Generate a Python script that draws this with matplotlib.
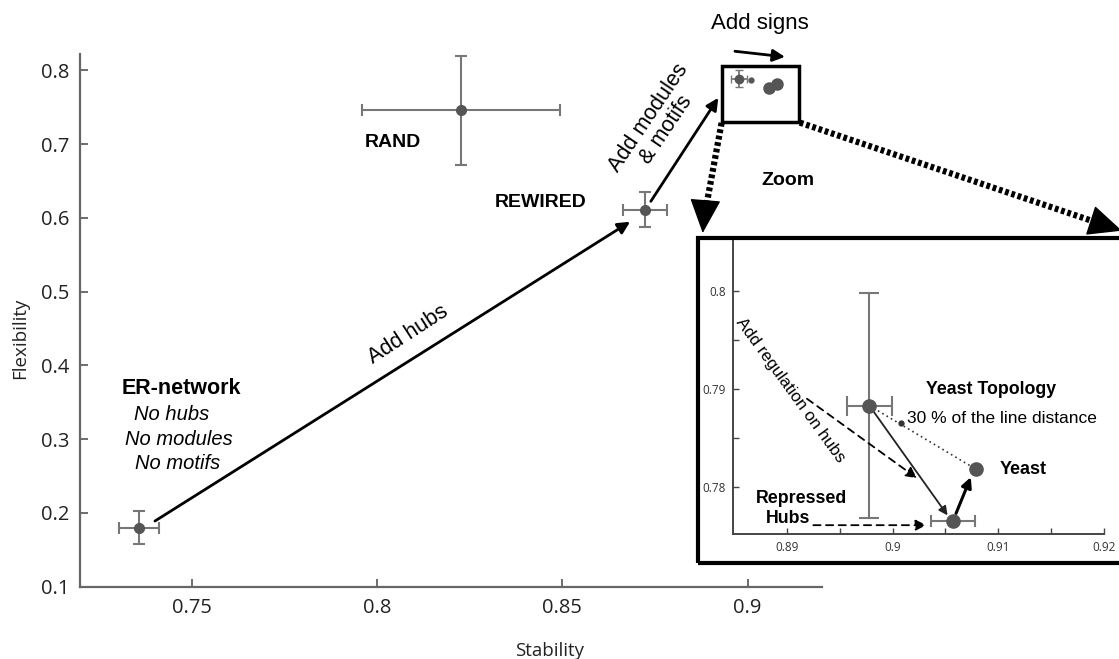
import matplotlib.pyplot as plt
from matplotlib.patches import Rectangle

plt.rcParams['font.family'] = ['Liberation Sans', 'DejaVu Sans']

# main panel: network models (stability, flexibility, x error, y error)
model_names = ['ER-network', 'RAND', 'REWIRED']
model_x = [0.7358, 0.8227, 0.8723]
model_y = [0.180, 0.746, 0.611]
model_xerr = [0.0053, 0.0268, 0.0060]
model_yerr = [0.0225, 0.074, 0.0235]

# zoomed points: yeast topology, repressed hubs, yeast, 30 % point
topo_x, topo_y = 0.8978, 0.7883
topo_xerr, topo_yerr = 0.00215, 0.0115
hubs_x, hubs_y = 0.9057, 0.7765
hubs_xerr = 0.0021
yeast_x, yeast_y = 0.9079, 0.7818
mid_x, mid_y = 0.9008, 0.7865

# zoom box on the main panel
box_x = [0.8931, 0.9139]
box_y = [0.7305, 0.8065]

main_xticks = [0.75, 0.8, 0.85, 0.9]
main_yticks = [0.1, 0.2, 0.3, 0.4, 0.5, 0.6, 0.7, 0.8]
zoom_xticks = [0.89, 0.9, 0.91, 0.92]
zoom_yticks = [0.78, 0.79, 0.8]

GREY = '#777777'
DOT = '#555555'
TICKFONT = 'Open Sans'

fig = plt.figure(figsize=(11.19, 6.59), dpi=100)
ax = fig.add_axes([0.0719, 0.1097, 0.7343 - 0.0719, 0.9185 - 0.1097])

ax.errorbar(model_x, model_y, xerr=model_xerr, yerr=model_yerr, fmt='o',
            color=DOT, ecolor=GREY, elinewidth=1.5, capsize=4.5, capthick=1.5,
            markersize=7, zorder=3)
# miniature of the zoomed data inside the box
ax.errorbar([topo_x], [topo_y], xerr=[topo_xerr], yerr=[topo_yerr], fmt='o',
            color=DOT, ecolor=GREY, elinewidth=1.3, capsize=3, markersize=6)
ax.plot([mid_x], [mid_y], 'o', color=DOT, markersize=3.5)
ax.plot([hubs_x, yeast_x], [hubs_y, yeast_y], 'o', color=DOT, markersize=8)

ax.add_patch(Rectangle((box_x[0], box_y[0]), box_x[1] - box_x[0], box_y[1] - box_y[0],
                       fill=False, lw=2.5, ec='black', clip_on=False, zorder=4))

ax.set_xlim(0.72, 0.92)
ax.set_ylim(0.1, 0.8225)
ax.set_xticks(main_xticks)
ax.set_xticklabels(['0.75', '0.8', '0.85', '0.9'])
ax.set_yticks(main_yticks)
ax.set_yticklabels(['%.1f' % v for v in main_yticks])
for s in ['top', 'right']:
    ax.spines[s].set_visible(False)
for s in ['left', 'bottom']:
    ax.spines[s].set_color('#666666')
    ax.spines[s].set_linewidth(1.6)
ax.tick_params(direction='in', length=6, width=1.2, color='#555555',
               labelsize=14.5, labelcolor='#222222', pad=8)
for lab in ax.get_xticklabels() + ax.get_yticklabels():
    lab.set_family(TICKFONT)

fig.text(20 / 1119, 1 - 338 / 659, 'Flexibility', rotation=90, ha='center', va='center',
         fontsize=13.5, family=TICKFONT, color='#222222')
fig.text(550 / 1119, 1 - 651 / 659, 'Stability', ha='center', va='center',
         fontsize=13.5, family=TICKFONT, color='#222222')

arrow = dict(arrowstyle='-|>', lw=2, color='black', mutation_scale=18, shrinkA=0, shrinkB=0)
ax.annotate('', xy=(0.8683, 0.5947), xytext=(0.7401, 0.189), arrowprops=arrow)
ax.annotate('', xy=(0.8921, 0.7627), xytext=(0.8739, 0.6224), arrowprops=arrow)
ax.annotate('', xy=(0.9101, 0.8182), xytext=(0.8966, 0.8258), arrowprops=arrow,
            annotation_clip=False)

# thick dotted zoom arrows
dots = dict(color='black', lw=4.5, linestyle=(0, (0.6, 0.45)), solid_capstyle='butt',
            clip_on=False)
head = dict(arrowstyle='-|>,head_length=1.1,head_width=0.5', color='black', lw=1,
            mutation_scale=20, shrinkA=0, shrinkB=0)
ax.plot([0.8930, 0.8882], [0.7288, 0.598], **dots)
ax.annotate('', xy=(0.8879, 0.5795), xytext=(0.8882, 0.598), arrowprops=head,
            annotation_clip=False)
ax.plot([0.9141, 0.9955], [0.7291, 0.5916], **dots)
ax.annotate('', xy=(1.001, 0.5826), xytext=(0.9955, 0.5916), arrowprops=head,
            annotation_clip=False)

ax.text(0.8042, 0.7016, 'RAND', fontsize=14, fontweight='bold', ha='center', va='center')
ax.text(0.8442, 0.621, 'REWIRED', fontsize=14, fontweight='bold', ha='center', va='center')
ax.text(0.7471, 0.369, 'ER-network', fontsize=15.5, fontweight='bold', ha='center', va='center')
ax.text(0.7446, 0.333, 'No hubs', fontsize=14.5, style='italic', ha='center', va='center')
ax.text(0.7465, 0.299, 'No modules', fontsize=14.5, style='italic', ha='center', va='center')
ax.text(0.7463, 0.2665, 'No motifs', fontsize=14.5, style='italic', ha='center', va='center')
ax.text(0.8084, 0.4415, 'Add hubs', fontsize=15.5, rotation=33, ha='center', va='center',
        rotation_mode='anchor')
ax.text(0.8757, 0.7275, 'Add modules\n& motifs', fontsize=15.5, rotation=56, ha='center',
        va='center', rotation_mode='anchor', linespacing=1.0)
ax.text(0.9034, 0.8635, 'Add signs', fontsize=16, ha='center', va='center')
ax.text(0.9108, 0.6505, 'Zoom', fontsize=14, fontweight='bold', ha='center', va='center')

# inset frame
fig.patches.append(Rectangle((698 / 1119, 1 - 563 / 659), 430 / 1119, 325 / 659,
                             fill=False, lw=3, ec='black', transform=fig.transFigure,
                             figure=fig))

ins = fig.add_axes([733 / 1119, 1 - 534 / 659, (1104 - 733) / 1119, (534 - 240) / 659])
ins.patch.set_alpha(0)
ins.errorbar([topo_x], [topo_y], xerr=[topo_xerr], yerr=[topo_yerr], fmt='o',
             color=DOT, ecolor=GREY, elinewidth=1.5, capsize=7, capthick=1.5,
             markersize=9.5, zorder=3)
ins.errorbar([hubs_x], [hubs_y], xerr=[hubs_xerr], fmt='o', color=DOT, ecolor=GREY,
             elinewidth=1.5, capsize=4, capthick=1.5, markersize=9.5, zorder=3)
ins.plot([yeast_x], [yeast_y], 'o', color=DOT, markersize=9.5, zorder=3)
ins.plot([topo_x, yeast_x], [topo_y, yeast_y], linestyle=(0, (1, 2)), color='#333333', lw=1.2)
ins.plot([mid_x], [mid_y], 'o', color='#333333', markersize=3.5)

thin = dict(arrowstyle='-|>', lw=1.3, color='#222222', mutation_scale=13, shrinkA=0, shrinkB=0)
ins.annotate('', xy=(0.9052, 0.7771), xytext=(0.8980, 0.7880), arrowprops=thin)
thick = dict(arrowstyle='-|>', lw=2.2, color='black', mutation_scale=15, shrinkA=0, shrinkB=0)
ins.annotate('', xy=(0.9074, 0.7810), xytext=(0.9060, 0.7773), arrowprops=thick)
dash = dict(arrowstyle='-|>', lw=1.3, color='black', linestyle=(0, (4, 3)),
            mutation_scale=16, shrinkA=0, shrinkB=0)
ins.annotate('', xy=(0.9023, 0.7809), xytext=(0.8919, 0.7890), arrowprops=dash)
ins.annotate('', xy=(0.9032, 0.7761), xytext=(0.8925, 0.7761), arrowprops=dash)

ins.text(0.8903, 0.7899, 'Add regulation on hubs', fontsize=12.2, rotation=-54,
         ha='center', va='center', rotation_mode='anchor')
ins.text(0.9093, 0.7899, 'Yeast Topology', fontsize=12.8, fontweight='bold',
         ha='center', va='center')
ins.text(0.9103, 0.7870, '30 % of the line distance', fontsize=12.5, ha='center', va='center')
ins.text(0.9101, 0.7818, 'Yeast', fontsize=13, fontweight='bold', ha='left', va='center')
ins.text(0.8914, 0.7788, 'Repressed', fontsize=12.8, fontweight='bold', ha='center', va='center')
ins.text(0.8901, 0.7768, 'Hubs', fontsize=12.8, fontweight='bold', ha='center', va='center')

ins.set_xlim(0.8849, 0.92)
ins.set_ylim(0.7752, 0.8052)
ins.set_xticks(zoom_xticks)
ins.set_xticklabels(['0.89', '0.9', '0.91', '0.92'])
ins.set_xticks([0.895, 0.905, 0.915], minor=True)
ins.set_yticks(zoom_yticks)
ins.set_yticklabels(['0.78', '0.79', '0.8'])
ins.set_yticks([0.785, 0.795], minor=True)
for s in ['top', 'right']:
    ins.spines[s].set_visible(False)
for s in ['left', 'bottom']:
    ins.spines[s].set_color('#444444')
    ins.spines[s].set_linewidth(1.4)
ins.tick_params(which='both', direction='in', length=4, width=1, color='#444444',
                labelsize=8.5, labelcolor='#333333', pad=5)
for lab in ins.get_xticklabels() + ins.get_yticklabels():
    lab.set_family(TICKFONT)

fig.savefig('out.png', dpi=100)
